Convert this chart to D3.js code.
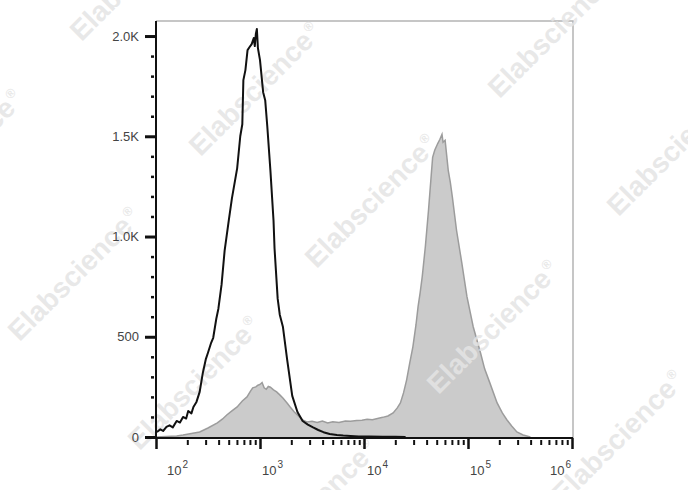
<!DOCTYPE html>
<html><head><meta charset="utf-8">
<script src="https://cdn.jsdelivr.net/npm/d3@7"></script>
<style>html,body{margin:0;padding:0;background:#fff;} svg{display:block;}</style>
</head><body>
<svg id="chart" width="688" height="490"></svg>
<script>
// ---------- data ----------
const controlIntensity = [102,110,117,126,135,145,158,170,182,195,204,219,229,245,263,282,302,316,339,355,380,398,427,457,501,537,603,646,676,692,724,759,794,832,871,891,912,933,955,1000,1072,1122,1175,1259,1349,1380,1479,1549,1660,1820,2042,2291,2570,2884,3236,3631,4074,4677,5495,6310,7413,8913,11220,15136,19953,25119];
const controlCount = [25,38,30,50,58,48,80,72,100,92,130,118,150,175,225,320,390,420,470,495,590,640,760,930,1080,1190,1340,1500,1560,1780,1830,1930,1945,1960,1990,1950,2010,2035,1940,1880,1720,1680,1550,1330,1080,940,690,610,550,390,205,125,80,62,48,35,24,15,10,7,5,3,2,1,1,0];

const stainedIntensity = [100,126,158,182,219,263,316,389,437,479,537,603,676,750,813,851,912,955,1000,1047,1096,1148,1202,1259,1349,1445,1549,1660,1820,1950,2138,2291,2570,2818,3162,3548,3981,4467,5012,5754,6607,7413,8511,9550,10715,12023,13490,15136,16982,19055,20893,22387,23988,25704,27542,29512,31623,33113,34674,36308,38905,41687,44668,45709,47863,51286,53703,56234,57544,60256,64565,67608,70795,77625,87096,97724,112202,131826,144544,162181,190546,213796,237137,263027,295121,338844,398107];
const stainedCount = [0,2,5,10,18,25,45,70,90,110,130,150,180,200,230,245,250,258,262,272,245,238,252,248,235,225,210,195,170,150,125,110,85,75,78,72,80,70,76,72,80,78,82,84,88,86,92,98,105,120,145,170,220,285,370,450,560,650,720,800,950,1130,1330,1395,1430,1465,1485,1510,1470,1480,1330,1270,1195,1030,870,700,550,420,340,270,170,120,85,55,25,10,0];

const yTickValues = [0, 500, 1000, 1500, 2000];
const yTickLabels = ["0", "500", "1.0K", "1.5K", "2.0K"];
const yMinorValues = [100,200,300,400,600,700,800,900,1100,1200,1300,1400,1600,1700,1800,1900];
const xDecades = [100, 1000, 10000, 100000, 1000000];
const xExponents = ["2", "3", "4", "5", "6"];
const xMinorMultipliers = [2,3,4,5,6,7,8,9];
const watermarkText = "Elabscience";

// ---------- layout ----------
const svg = d3.select("#chart");
const pL = 156, pR = 572, pT = 21, pB = 437;
const x = d3.scaleLog().domain([100, 1e6]).range([pL, pR]);
const y = d3.scaleLinear().domain([0, 2075]).range([pB, pT]);

// frame (top / right light grey)
svg.append("path")
  .attr("d", `M${pL},${pT}H${pR + 1}V${pB + 1}`)
  .attr("fill", "none").attr("stroke", "#b4b4b4").attr("stroke-width", 1.5);

// stained histogram (grey filled)
const stained = stainedIntensity.map((v, i) => [v, stainedCount[i]]);
const area = d3.area().x(d => x(d[0])).y0(y(0)).y1(d => y(d[1]));
const line = d3.line().x(d => x(d[0])).y(d => y(d[1]));
svg.append("path").datum(stained).attr("d", area).attr("fill", "#cbcbcb");
svg.append("path").datum(stained).attr("d", line)
  .attr("fill", "none").attr("stroke", "#9c9c9c").attr("stroke-width", 1.5);

// watermarks
const wmCenters = [[136,-26],[255,89],[371,201],[493,327],[618,437],[554,31],[673,149],[-43,156],[74,274],[194,383],[311,506]];
const wm = svg.append("g").attr("pointer-events", "none");
wmCenters.forEach(c => {
  const t = wm.append("text")
    .attr("transform", `translate(${c[0]},${c[1]}) rotate(-45)`)
    .attr("text-anchor", "middle").attr("dy", "0.35em")
    .attr("font-family", "Liberation Sans, Arial, sans-serif")
    .attr("font-weight", "bold").attr("font-size", 28)
    .attr("fill", "#e4e4e4").attr("fill-opacity", 0.85);
  t.append("tspan").text(watermarkText);
  t.append("tspan").attr("font-size", 13).attr("dy", "-0.9em").attr("dx", "2").text("®");
});

// control histogram (black line)
const control = controlIntensity.map((v, i) => [v, controlCount[i]]);
svg.append("path").datum(control).attr("d", line)
  .attr("fill", "none").attr("stroke", "#111").attr("stroke-width", 2).attr("stroke-linejoin", "round");

// ---------- y axis ----------
const yAxis = svg.append("g").attr("transform", `translate(${pL},0)`)
  .call(d3.axisLeft(y).tickValues(yTickValues).tickFormat((d, i) => yTickLabels[i]).tickSize(11).tickPadding(6));
yAxis.select(".domain").attr("d", `M0,${pT}V${pB + 1}`).attr("stroke", "#111").attr("stroke-width", 2);
yAxis.selectAll(".tick line").attr("stroke", "#111").attr("stroke-width", 3);
yAxis.selectAll(".tick text").attr("font-family", "Liberation Sans, Arial, sans-serif")
  .attr("font-size", 13).attr("fill", "#444").attr("x", -17);
const yMinor = svg.append("g").attr("transform", `translate(${pL},0)`)
  .call(d3.axisLeft(y).tickValues(yMinorValues).tickFormat("").tickSize(5));
yMinor.select(".domain").remove();
yMinor.selectAll(".tick line").attr("x2", -2).attr("x1", -5).attr("stroke", "#111").attr("stroke-width", 2.5);

// ---------- x axis ----------
const xAxis = svg.append("g").attr("transform", `translate(0,${pB + 1})`)
  .call(d3.axisBottom(x).tickValues(xDecades).tickFormat("").tickSize(11));
xAxis.select(".domain").attr("d", `M${pL},0H${pR + 1}`).attr("stroke", "#111").attr("stroke-width", 2);
xAxis.selectAll(".tick line").attr("stroke", "#111").attr("stroke-width", 2.5);
const minorVals = [];
xDecades.slice(0, -1).forEach(d => xMinorMultipliers.forEach(m => minorVals.push(d * m)));
const xMinor = svg.append("g").attr("transform", `translate(0,${pB + 1})`)
  .call(d3.axisBottom(x).tickValues(minorVals).tickFormat("").tickSize(7));
xMinor.select(".domain").remove();
xMinor.selectAll(".tick line").attr("y1", 2).attr("stroke", "#111").attr("stroke-width", 2);

// decade labels 10^n
const labelShift = {100: 11, 1000: 2, 10000: 3, 100000: 2, 1000000: -22};
xDecades.forEach((d, i) => {
  const t = svg.append("text")
    .attr("x", x(d) + labelShift[d]).attr("y", pB + 38)
    .attr("font-family", "Liberation Sans, Arial, sans-serif")
    .attr("font-size", 13).attr("fill", "#444");
  t.append("tspan").text("10");
  t.append("tspan").attr("font-size", 10).attr("dy", "-0.75em").attr("dx", "1").text(xExponents[i]);
});
</script>
</body></html>
